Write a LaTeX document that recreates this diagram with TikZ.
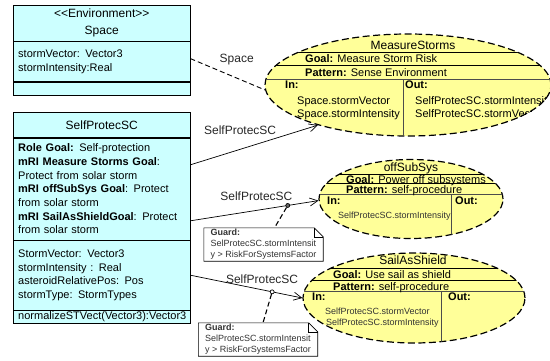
\documentclass[tikz,border=0pt]{standalone}
\usepackage{fontspec}
\setmainfont{Liberation Sans}
\usetikzlibrary{arrows.meta,shapes,positioning}

\definecolor{classfill}{HTML}{CCFFFF}
\definecolor{rolefill}{HTML}{FFFF99}

\begin{document}
\begin{tikzpicture}[x=1pt, y=-1pt,
        headbox/.style={rectangle, draw, fill=classfill, minimum width=177pt,
                        inner sep=0pt, align=center, font=\fontsize{12}{17}\selectfont},
        partbox/.style={rectangle, draw, fill=classfill, text width=167pt, inner xsep=5pt,
                        inner ysep=0pt, align=left, font=\fontsize{11}{13.7}\selectfont},
        rolebox/.style={ellipse, draw, line width=1.2pt, dash pattern=on 7pt off 3.5pt,
                        fill=rolefill, inner sep=0pt},
        rowline/.style={draw, line width=0.6pt},
        ioline/.style={draw, line width=1pt, black!70},
        rtitle/.style={anchor=base, inner sep=0pt, font=\fontsize{12}{14}\selectfont},
        rtext/.style={anchor=base west, inner sep=0pt, font=\fontsize{11}{13}\selectfont},
        rsmall/.style={anchor=base west, inner sep=0pt, font=\fontsize{9}{11}\selectfont, text=black!80},
        link/.style={draw, line width=0.7pt, -{Straight Barb[length=8pt,width=8pt]}},
        linklabel/.style={font=\fontsize{12}{14}\selectfont, text=black!85, inner sep=0pt},
        guardnote/.style={rectangle, fill=white, minimum width=119pt, minimum height=33pt,
                          inner sep=0pt, align=left, font=\fontsize{9}{11}\selectfont, text=black!80},
        guardline/.style={draw, line width=1.1pt, dash pattern=on 5pt off 3pt},
        joint/.style={circle, draw, inner sep=0pt, minimum size=4pt}
    ]
    \useasboundingbox (0,0) rectangle (550,360);

    % classes
    \node [headbox, minimum height=36pt, anchor=north west] (spacehead) at (13,5) {<\kern0pt<Environment>\kern0pt>\\Space};
    \node [partbox, minimum height=40pt, below=0pt of spacehead] (spaceattr) {stormVector: Vector3\\stormIntensity:Real};
    \node [partbox, minimum height=13pt, below=0pt of spaceattr] (spaceops) {};

    \node [headbox, minimum height=25pt, below=17pt of spaceops] (sphead) {SelfProtecSC};
    \node [partbox, minimum height=102pt, below=0pt of sphead] (spgoal) {\textbf{Role Goal:} Self-protection\\
        \textbf{mRI Measure Storms Goal}:\\Protect from solar storm\\
        \textbf{mRI offSubSys Goal}: Protect\\from solar storm\\
        \textbf{mRI SailAsShieldGoal}: Protect\\from solar storm};
    \node [partbox, minimum height=70pt, below=0pt of spgoal] (spattr) {StormVector: Vector3\\stormIntensity : Real\\
        asteroidRelativePos: Pos\\stormType: StormTypes};
    \node [partbox, minimum height=13pt, below=0pt of spattr] (spops) {normalizeSTVect(Vector3):Vector3};

    % roles
    \node [rolebox, minimum width=286pt, minimum height=102pt] (ms) at (408,85) {};
    \node [rolebox, minimum width=184pt, minimum height=79pt] (oss) at (411,199) {};
    \node [rolebox, minimum width=222pt, minimum height=90pt] (sas) at (414,298) {};

    \begin{scope}
        \clip (ms.center) ellipse (143pt and 51pt);
        \draw [rowline] (250,52) -- (560,52);
        \draw [rowline] (250,65) -- (560,65);
        \draw [ioline] (250,79) -- (560,79);
        \draw [ioline] (403,79) -- (403,140);
        \node [rtitle] (mstitle) at (413,49.5) {MeasureStorms};
        \node [rtext] (msgoal) at (305,62.5) {\textbf{Goal:} Measure Storm Risk};
        \node [rtext] (mspat) at (305,76) {\textbf{Pattern:} Sense Environment};
        \node [rtext] (msin) at (285,88) {\textbf{In:}};
        \node [rtext] (msout) at (405,88) {\textbf{Out:}};
        \node [rtext] (msin1) at (297,104) {Space.stormVector};
        \node [rtext] (msin2) at (297,117) {Space.stormIntensity};
        \node [rtext] (msout1) at (415,104) {SelfProtecSC.stormIntensity};
        \node [rtext] (msout2) at (415,117) {SelfProtecSC.stormVector};
    \end{scope}

    \begin{scope}
        \clip (oss.center) ellipse (92pt and 39.5pt);
        \draw [rowline] (300,174) -- (520,174);
        \draw [rowline] (300,183.3) -- (520,183.3);
        \draw [ioline] (300,194.3) -- (520,194.3);
        \draw [ioline] (451,194.3) -- (451,245);
        \node [rtitle] (osstitle) at (411,171.5) {offSubSys};
        \node [rtext] (ossgoal) at (346,183) {\textbf{Goal:} Power off subsystems};
        \node [rtext] (osspat) at (346,193.3) {\textbf{Pattern:} self-procedure};
        \node [rtext] (ossin) at (327,204) {\textbf{In:}};
        \node [rtext] (ossout) at (455,204) {\textbf{Out:}};
        \node [rsmall] (ossin1) at (338,218.5) {SelfProtecSC.stormIntensity};
    \end{scope}

    \begin{scope}
        \clip (sas.center) ellipse (111pt and 45pt);
        \draw [rowline] (290,268.3) -- (540,268.3);
        \draw [rowline] (290,280.7) -- (540,280.7);
        \draw [ioline] (290,291.7) -- (540,291.7);
        \draw [ioline] (441,291.7) -- (441,350);
        \node [rtitle] (sastitle) at (413,264.5) {SailAsShield};
        \node [rtext] (sasgoal) at (333,278.3) {\textbf{Goal:} Use sail as shield};
        \node [rtext] (saspat) at (333,290.3) {\textbf{Pattern:} self-procedure};
        \node [rtext] (sasin) at (312,300.7) {\textbf{In:}};
        \node [rtext] (sasout) at (448,300.7) {\textbf{Out:}};
        \node [rsmall] (sasin1) at (325,314.5) {SelfProtecSC.stormVector};
        \node [rsmall] (sasin2) at (326,325) {SelfProtecSC.stormIntensity};
    \end{scope}

    % guards
    \node [guardnote] (guard1) at (263.5,244.5) {\textbf{Guard:}\\SelProtecSC.stormIntensit\\y > RiskForSystemsFactor};
    \node [guardnote] (guard2) at (258,339.5) {\textbf{Guard:}\\SelProtecSC.stormIntensit\\y > RiskForSystemsFactor};
    \draw [line width=0.6pt] (guard1.north west) -- ([xshift=-9pt]guard1.north east) -- ([yshift=-9pt]guard1.north east)
        -- (guard1.south east) -- (guard1.south west) -- cycle;
    \draw [line width=0.6pt] ([xshift=-9pt]guard1.north east) |- ([yshift=-9pt]guard1.north east);
    \draw [line width=0.6pt] (guard2.north west) -- ([xshift=-9pt]guard2.north east) -- ([yshift=-9pt]guard2.north east)
        -- (guard2.south east) -- (guard2.south west) -- cycle;
    \draw [line width=0.6pt] ([xshift=-9pt]guard2.north east) |- ([yshift=-9pt]guard2.north east);

    % links
    \draw [line width=0.9pt, dash pattern=on 5pt off 3pt] ([yshift=3pt]spaceattr.east) -- (ms.182)
        node [linklabel, pos=0.62, above=13pt] (spacelbl) {Space};
    \draw [link] ([yshift=24pt]spgoal.east) -- (ms.204)
        node [linklabel, pos=0.39, above=14pt] (mslbl) {SelfProtecSC};
    \draw [link] ([yshift=-32pt]spgoal.east) -- (oss.181)
        node [linklabel, pos=0.515, above=9pt] (osslbl) {SelfProtecSC}
        node [joint, fill=black!60, pos=0.76] (j1) {};
    \draw [link] (spattr.east) -- (sas.180)
        node [linklabel, pos=0.64, above=6pt] (saslbl) {SelfProtecSC}
        node [joint, fill=white, pos=0.73] (j2) {};
    \draw [guardline] (j1) -- ([xshift=11pt]guard1.north);
    \draw [guardline] (j2) -- ([xshift=5pt]guard2.north);
\end{tikzpicture}
\end{document}
